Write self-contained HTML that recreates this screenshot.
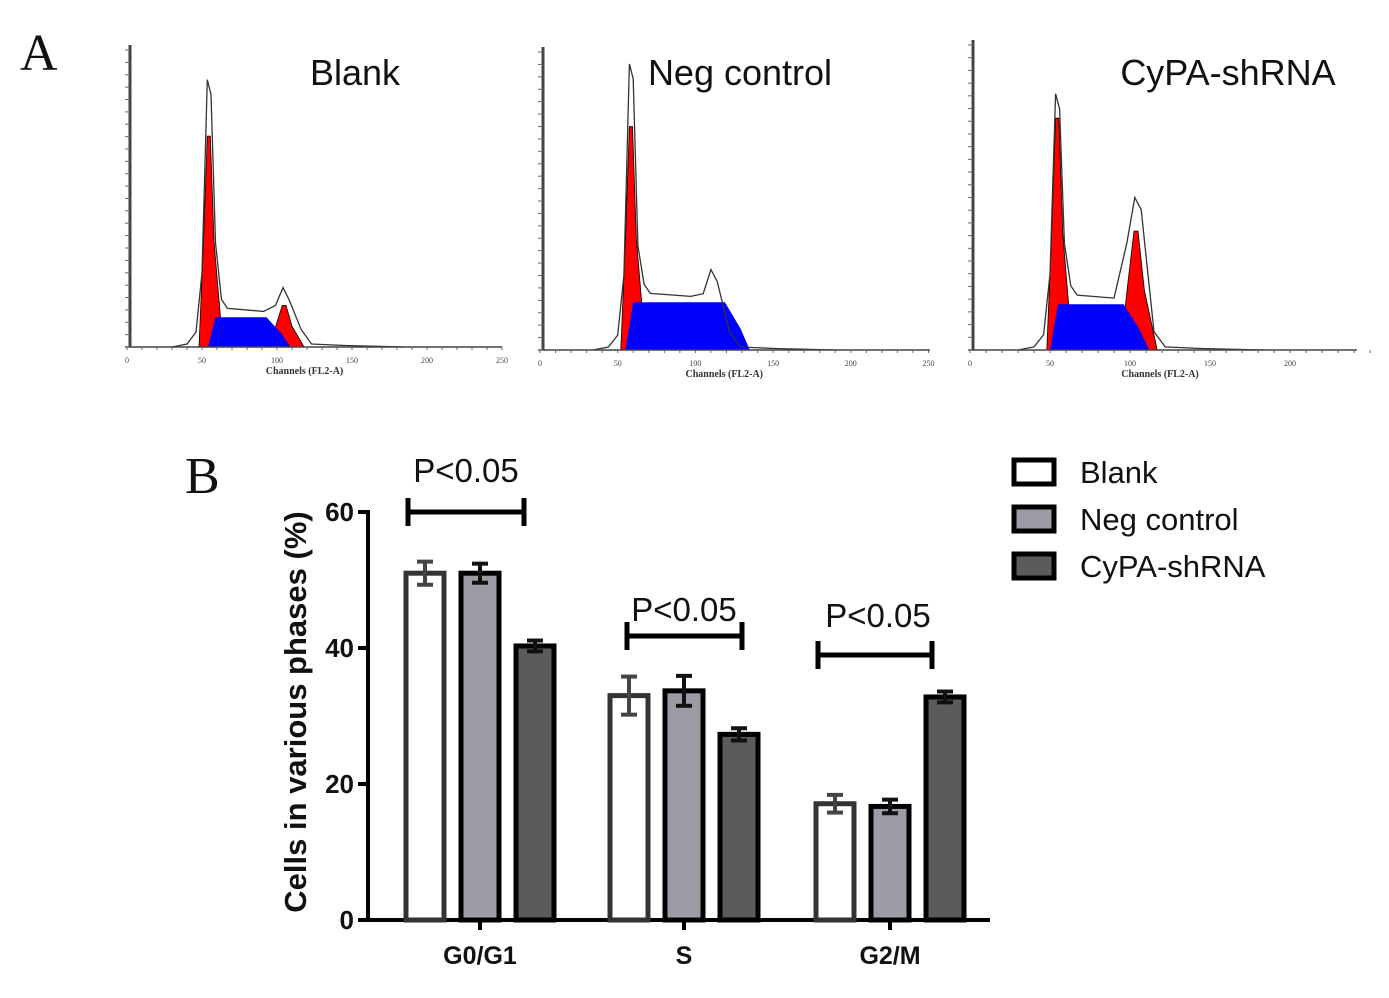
<!DOCTYPE html>
<html><head><meta charset="utf-8"><style>
body{margin:0;background:#fff;}
svg{display:block;}
text{font-family:"Liberation Sans",sans-serif;}
</style></head><body>
<svg id="fig" width="1389" height="998" viewBox="0 0 1389 998">
<text x="20" y="70" font-size="52" fill="#111" style="font-family:'Liberation Serif',serif">A</text>
<text x="185" y="493" font-size="52" fill="#111" style="font-family:'Liberation Serif',serif">B</text>
<g id="hists"></g>
<g id="bars"></g>
</svg>
<script>
// Histogram data (channel, % of axis height)
const histTitles = ["Blank", "Neg control", "CyPA-shRNA"];
const g1Channel = [55, 59, 55];
const g1Red = [71, 75, 76];
const g1Outline = [90, 96, 84];
const sStart = [54, 55, 50];
const sEnd = [109, 135, 112];
const sPlateau = [10, 16, 15];
const g2Channel = [105, 111, 104];
const g2Red = [14, 13, 39];
const g2Outline = [20, 27, 50];
const histTickLabels = ["0", "50", "100", "150", "200", "250"];

// Bar chart data
const categories = ["G0/G1", "S", "G2/M"];
const seriesNames = ["Blank", "Neg control", "CyPA-shRNA"];
const blankVals = [51, 33, 17.1];
const negVals = [51, 33.7, 16.7];
const cypaVals = [40.3, 27.3, 32.8];
const blankErr = [1.7, 2.8, 1.3];
const negErr = [1.4, 2.2, 1.0];
const cypaErr = [0.8, 0.9, 0.8];
const yTicks = [0, 20, 40, 60];

const NS = "http://www.w3.org/2000/svg";
function mk(tag, attrs, parent) {
  const e = document.createElementNS(NS, tag);
  for (const k in attrs) e.setAttribute(k, attrs[k]);
  parent.appendChild(e);
  return e;
}

// ---- histograms ----
const panels = [
  {x0: 127, k: 1.5, yb: 347, H: 297, ax: 130, xEnd: 502, tx: 355},
  {x0: 540, k: 1.554, yb: 350, H: 298, ax: 543, xEnd: 930, tx: 740},
  {x0: 970, k: 1.6, yb: 350, H: 305, ax: 973, xEnd: 1357, tx: 1228}
];
const hg = document.getElementById('hists');
panels.forEach((p, i) => {
  const X = c => p.x0 + c * p.k;
  const Y = v => p.yb - v / 100 * p.H;
  const g = mk('g', {}, hg);
  
  
  const pts = a => a.map(q => X(q[0]).toFixed(1) + ',' + Y(q[1]).toFixed(1)).join(' ');
  const c = g1Channel[i], c2 = g2Channel[i];
  const r1 = g1Red[i], r2 = g2Red[i];
  let e = mk('polygon', {points: pts([[c - 7, 0], [c - 4, r1 * 0.5], [c - 1.5, r1], [c + 0.5, r1], [c + 3, r1 * 0.5], [c + 9, 0]]), fill: '#f00', stroke: '#000', 'stroke-width': 0.8}, g);
  
  
  e = mk('polygon', {points: pts([[c2 - 10, 0], [c2 - 5, r2 * 0.6], [c2 - 1.5, r2], [c2 + 1, r2], [c2 + 5, r2 * 0.5], [c2 + 13, 0]]), fill: '#f00', stroke: '#000', 'stroke-width': 0.8}, g);
  
  
  e = mk('polygon', {points: pts([[sStart[i], 0], [sStart[i] + 5, sPlateau[i]], [sEnd[i] - 16, sPlateau[i]], [sEnd[i] - 6, sPlateau[i] * 0.45], [sEnd[i], 0]]), fill: '#00f'}, g);
  
  
  const out = [[c - 25, 0], [c - 15, 1], [c - 9, 5], [c - 5, 25], [c - 1.5, g1Outline[i]], [c + 1, g1Outline[i] - 5], [c + 4, 35], [c + 8, sPlateau[i] + 6], [c + 12, sPlateau[i] + 3], [c2 - 14, sPlateau[i] + 2], [c2 - 6, g2Outline[i] * 0.7], [c2 - 1, g2Outline[i]], [c2 + 3, g2Outline[i] - 4], [c2 + 11, 6], [c2 + 18, 1], [c2 + 40, 0.5], [c2 + 80, 0]];
  e = mk('polyline', {points: pts(out), fill: 'none', stroke: '#333', 'stroke-width': 1.3}, g);
  
  
  mk('line', {x1: p.ax, y1: p.yb - p.H - 5, x2: p.ax, y2: p.yb, stroke: '#444', 'stroke-width': 3}, g);
  mk('line', {x1: p.ax - 5, y1: p.yb, x2: p.xEnd, y2: p.yb, stroke: '#444', 'stroke-width': 1.5}, g);
  for (let t = 0; t <= 24; t++) mk('line', {x1: p.ax - 5, x2: p.ax, y1: p.yb - t * p.H / 24, y2: p.yb - t * p.H / 24, stroke: '#666', 'stroke-width': 1}, g);
  for (let t = 0; t <= 25; t++) mk('line', {x1: X(t * 10), x2: X(t * 10), y1: p.yb, y2: p.yb + 3, stroke: '#666', 'stroke-width': 1}, g);
  histTickLabels.forEach((l, j) => {
    const x = X(j * 50);
    if (x > p.xEnd + 2) return;
    const t = mk('text', {x: x, y: p.yb + 16, 'font-size': 8, 'text-anchor': 'middle', fill: '#444', style: "font-family:'Liberation Serif',serif"}, g);
    t.textContent = l;
  });
  let t = mk('text', {x: X(125) - 10, y: p.yb + 27, 'font-size': 10, 'font-weight': 'bold', 'text-anchor': 'middle', fill: '#333', style: "font-family:'Liberation Serif',serif"}, g);
  
  
  t.textContent = 'Channels (FL2-A)';
  t = mk('text', {x: p.tx, y: 85, 'font-size': 36, 'text-anchor': 'middle', fill: '#111'}, g);
  
  
  t.textContent = histTitles[i];
});

// ---- bar chart ----
const bg = document.getElementById('bars');
const y0 = 920, y60 = 512;
const yS = v => y0 - (y0 - y60) * v / 60;
const groupC = [480, 684, 890];
const offs = [-55, 0, 55];
const bw = 38;
const fills = ['#ffffff', '#9d9ca6', '#5b5b5b'];
const strokes = ['#333', '#000', '#000'];
const vals = [blankVals, negVals, cypaVals];
const errs = [blankErr, negErr, cypaErr];
mk('line', {x1: 368, y1: y60 - 2, x2: 368, y2: y0, stroke: '#000', 'stroke-width': 4}, bg);
mk('line', {x1: 366, y1: y0, x2: 990, y2: y0, stroke: '#000', 'stroke-width': 4}, bg);
yTicks.forEach(v => {
  mk('line', {x1: 358, x2: 368, y1: yS(v), y2: yS(v), stroke: '#000', 'stroke-width': 4}, bg);
  const t = mk('text', {x: 354, y: yS(v) + 9, 'font-size': 26, 'font-weight': 'bold', 'text-anchor': 'end', fill: '#111'}, bg);
  
  
  t.textContent = v;
});
let yt = mk('text', {x: 0, y: 0, 'font-size': 31, 'font-weight': 'bold', 'text-anchor': 'middle', fill: '#111', transform: 'translate(306,712) rotate(-90)'}, bg);


yt.textContent = 'Cells in various phases (%)';
categories.forEach((cat, ci) => {
  mk('line', {x1: groupC[ci], x2: groupC[ci], y1: y0, y2: y0 + 10, stroke: '#000', 'stroke-width': 4}, bg);
  const t = mk('text', {x: groupC[ci], y: 964, 'font-size': 25, 'font-weight': 'bold', 'text-anchor': 'middle', fill: '#111'}, bg);
  
  
  t.textContent = cat;
  for (let s = 0; s < 3; s++) {
    const cx = groupC[ci] + offs[s];
    const v = vals[s][ci], er = errs[s][ci];
    const r = mk('rect', {x: cx - bw / 2, y: yS(v), width: bw, height: y0 - yS(v), fill: fills[s], stroke: strokes[s], 'stroke-width': 5}, bg);
    
    
    const ec = s === 0 ? '#444' : '#111';
    mk('line', {x1: cx, x2: cx, y1: yS(v + er), y2: yS(v - er), stroke: ec, 'stroke-width': 4}, bg);
    mk('line', {x1: cx - 8, x2: cx + 8, y1: yS(v + er), y2: yS(v + er), stroke: ec, 'stroke-width': 4}, bg);
    mk('line', {x1: cx - 8, x2: cx + 8, y1: yS(v - er), y2: yS(v - er), stroke: ec, 'stroke-width': 4}, bg);
  }
});
// significance brackets
const brackets = [[408, 524, 512, 466, 482], [627, 742, 636, 684, 621], [818, 932, 655, 878, 627]];
brackets.forEach(b => {
  const g = mk('g', {}, bg);
  
  
  mk('line', {x1: b[0], x2: b[1], y1: b[2], y2: b[2], stroke: '#000', 'stroke-width': 5}, g);
  mk('line', {x1: b[0], x2: b[0], y1: b[2] - 14, y2: b[2] + 14, stroke: '#000', 'stroke-width': 5}, g);
  mk('line', {x1: b[1], x2: b[1], y1: b[2] - 14, y2: b[2] + 14, stroke: '#000', 'stroke-width': 5}, g);
  const t = mk('text', {x: b[3], y: b[4], 'font-size': 33, 'text-anchor': 'middle', fill: '#111'}, g);
  t.textContent = 'P<0.05';
});
// legend
seriesNames.forEach((n, s) => {
  const g = mk('g', {}, bg);
  
  
  const y = 460 + s * 47;
  mk('rect', {x: 1014, y: y, width: 40, height: 24, fill: fills[s], stroke: '#000', 'stroke-width': 5}, g);
  const t = mk('text', {x: 1080, y: y + 23, 'font-size': 31, fill: '#111'}, g);
  t.textContent = n;
});
</script>
</body></html>
